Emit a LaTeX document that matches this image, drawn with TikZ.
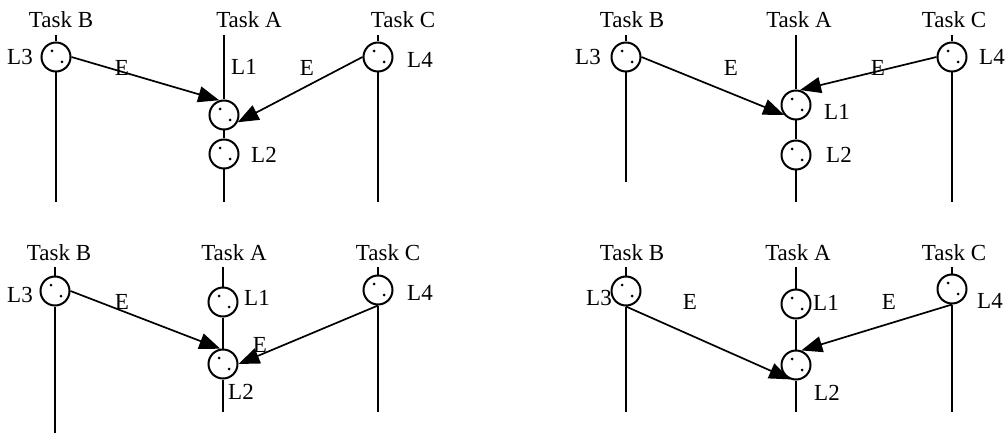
\documentclass[tikz,border=0pt]{standalone}
\usepackage{fontspec}
\setmainfont{Liberation Serif}
\usetikzlibrary{arrows.meta}
\tikzset{
  lifeball/.style={circle, draw, line width=2pt, minimum size=29pt, inner sep=0pt,
    path picture={
      \fill ([shift={(-4pt,6pt)}]path picture bounding box.center) circle (1.5pt);
      \fill ([shift={(6pt,-5pt)}]path picture bounding box.center) circle (1.5pt);
    }},
  lifeline/.style={line width=2pt},
  msg/.style={line width=1.7pt, -{Triangle[length=21pt,width=16pt]}},
  lbl/.style={font=\fontsize{23}{25}\selectfont, inner sep=0pt},
  task/.style={lbl, anchor=base},
}
\begin{document}
\begin{tikzpicture}[x=1pt,y=-1pt]
\useasboundingbox (0,0) rectangle (1007,433);

% ================= Panel 1 (top left) =================
\node[task] (p1tB) at (61,28) {Task B};
\node[task] (p1tA) at (249,28) {Task A};
\node[task] (p1tC) at (403,28) {Task C};
\node[lifeball] (p1B) at (56,57) {};
\node[lifeball] (p1A1) at (224,115) {};
\node[lifeball] (p1A2) at (224,154) {};
\node[lifeball] (p1C) at (378,57) {};
\coordinate (p1Btop) at (56,35); \coordinate (p1Bbot) at (56,202);
\coordinate (p1Atop) at (224,35); \coordinate (p1Abot) at (224,202);
\coordinate (p1Ctop) at (378,35); \coordinate (p1Cbot) at (378,202);
\draw[lifeline] (p1Btop) -- (p1B.north) (p1B.south) -- (p1Bbot);
\draw[lifeline] (p1Atop) -- (p1A1.north) (p1A1.south) -- (p1A2.north) (p1A2.south) -- (p1Abot);
\draw[lifeline] (p1Ctop) -- (p1C.north) (p1C.south) -- (p1Cbot);
\node[lbl] (p1L3) at (20,57) {L3};
\node[lbl] (p1L1) at (244,67) {L1};
\node[lbl] (p1L2) at (264,155) {L2};
\node[lbl] (p1L4) at (420,60) {L4};
\draw[msg] (p1B.east) -- (p1A1.108);
\draw[msg] (p1C.west) -- (p1A1.-28);
\node[lbl] (p1E1) at (122,68) {E};
\node[lbl] (p1E2) at (307,68) {E};

% ================= Panel 2 (top right) =================
\node[task] (p2tB) at (632,28) {Task B};
\node[task] (p2tA) at (799,28) {Task A};
\node[task] (p2tC) at (954,28) {Task C};
\node[lifeball] (p2B) at (626,57) {};
\node[lifeball] (p2A1) at (796,105) {};
\node[lifeball] (p2A2) at (796,155) {};
\node[lifeball] (p2C) at (952,57) {};
\coordinate (p2Btop) at (626,35); \coordinate (p2Bbot) at (626,182);
\coordinate (p2Atop) at (796,35); \coordinate (p2Abot) at (796,202);
\coordinate (p2Ctop) at (952,35); \coordinate (p2Cbot) at (952,202);
\draw[lifeline] (p2Btop) -- (p2B.north) (p2B.south) -- (p2Bbot);
\draw[lifeline] (p2Atop) -- (p2A1.north) (p2A1.south) -- (p2A2.north) (p2A2.south) -- (p2Abot);
\draw[lifeline] (p2Ctop) -- (p2C.north) (p2C.south) -- (p2Cbot);
\node[lbl] (p2L3) at (588,57) {L3};
\node[lbl] (p2L1) at (837,112) {L1};
\node[lbl] (p2L2) at (839,155) {L2};
\node[lbl] (p2L4) at (992,57) {L4};
\draw[msg] (p2B.east) -- (p2A1.-140);
\draw[msg] (p2C.west) -- (p2A1.75);
\node[lbl] (p2E1) at (731,68) {E};
\node[lbl] (p2E2) at (878,68) {E};

% ================= Panel 3 (bottom left) =================
\node[task] (p3tB) at (59,260) {Task B};
\node[task] (p3tA) at (234,260) {Task A};
\node[task] (p3tC) at (388,260) {Task C};
\node[lifeball] (p3B) at (55,291) {};
\node[lifeball] (p3A1) at (223,302) {};
\node[lifeball] (p3A2) at (223,364) {};
\node[lifeball] (p3C) at (378,290) {};
\coordinate (p3Btop) at (55,267); \coordinate (p3Bbot) at (55,433);
\coordinate (p3Atop) at (223,267); \coordinate (p3Abot) at (223,412);
\coordinate (p3Ctop) at (378,267); \coordinate (p3Cbot) at (378,412);
\draw[lifeline] (p3Btop) -- (p3B.north) (p3B.south) -- (p3Bbot);
\draw[lifeline] (p3Atop) -- (p3A1.north) (p3A1.south) -- (p3A2.north) (p3A2.south) -- (p3Abot);
\draw[lifeline] (p3Ctop) -- (p3C.north) (p3C.south) -- (p3Cbot);
\node[lbl] (p3L3) at (20,295) {L3};
\node[lbl] (p3L1) at (257,298) {L1};
\node[lbl] (p3L2) at (241,392) {L2};
\node[lbl] (p3L4) at (420,293) {L4};
\draw[msg] (p3B.east) -- (p3A2.100);
\draw[msg] (p3C.south) -- (p3A2.east);
\node[lbl] (p3E1) at (122,302) {E};
\node[lbl] (p3E2) at (260,345) {E};

% ================= Panel 4 (bottom right) =================
\node[task] (p4tB) at (632,260) {Task B};
\node[task] (p4tA) at (798,260) {Task A};
\node[task] (p4tC) at (954,260) {Task C};
\node[lifeball] (p4B) at (626,291) {};
\node[lifeball] (p4A1) at (796,304) {};
\node[lifeball] (p4A2) at (796,365) {};
\node[lifeball] (p4C) at (952,289) {};
\coordinate (p4Btop) at (626,267); \coordinate (p4Bbot) at (626,412);
\coordinate (p4Atop) at (796,267); \coordinate (p4Abot) at (796,412);
\coordinate (p4Ctop) at (952,267); \coordinate (p4Cbot) at (952,412);
\draw[lifeline] (p4Btop) -- (p4B.north) (p4B.south) -- (p4Bbot);
\draw[lifeline] (p4Atop) -- (p4A1.north) (p4A1.south) -- (p4A2.north) (p4A2.south) -- (p4Abot);
\draw[lifeline] (p4Ctop) -- (p4C.north) (p4C.south) -- (p4Cbot);
\node[lbl] (p4L3) at (599,298) {L3};
\node[lbl] (p4L1) at (826,303) {L1};
\node[lbl] (p4L2) at (827,393) {L2};
\node[lbl] (p4L4) at (990,301) {L4};
\draw[msg] (p4B.south) -- (p4A2.-112);
\draw[msg] (p4C.south) -- (p4A2.70);
\node[lbl] (p4E1) at (690,302) {E};
\node[lbl] (p4E2) at (889,302) {E};
\end{tikzpicture}
\end{document}
